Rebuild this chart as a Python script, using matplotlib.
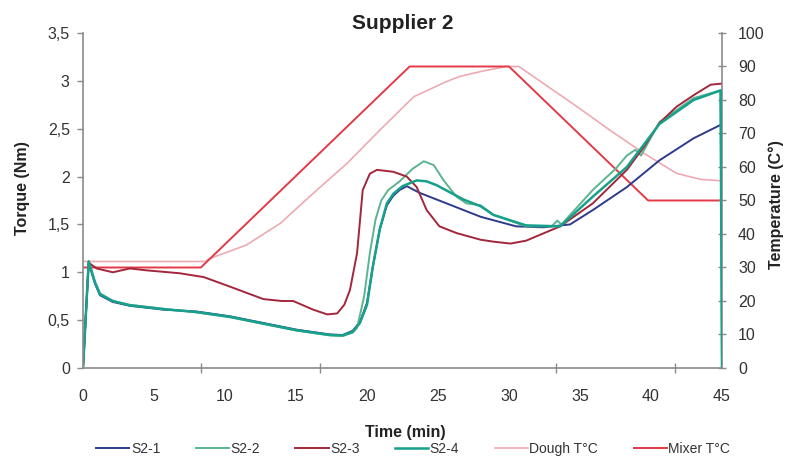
import matplotlib
matplotlib.use("Agg")
import matplotlib.pyplot as plt
from matplotlib.ticker import FixedLocator, FuncFormatter

plt.rcParams['font.family'] = ['Liberation Sans', 'DejaVu Sans']

# ---------------- data ----------------
t_s21 = [0, 0.4, 0.85, 1.2, 2.1, 3.3, 5.65, 8.0, 10.35, 12.7, 15.05, 17.4, 18.3, 19.0, 19.5,
         20.0, 20.4, 20.9, 21.4, 21.85, 22.3, 22.8, 23.7, 25.6, 28.0, 30.5, 32.4, 34.3, 35.9,
         38.3, 40.6, 43.0, 44.9]
tq_s21 = [0, 1.10, 0.88, 0.76, 0.69, 0.65, 0.61, 0.59, 0.54, 0.47, 0.40, 0.35, 0.345, 0.39, 0.48,
          0.68, 1.05, 1.45, 1.70, 1.80, 1.86, 1.90, 1.83, 1.72, 1.58, 1.48, 1.47, 1.50, 1.65,
          1.89, 2.17, 2.40, 2.54]

t_s22 = [0, 0.4, 0.85, 1.2, 2.1, 3.3, 5.65, 8.0, 10.35, 12.7, 15.05, 17.4, 18.3, 19.0, 19.3,
         19.8, 20.2, 20.6, 21.0, 21.5, 22.3, 23.2, 24.0, 24.7, 25.4, 26.3, 27.0, 28.0, 28.9,
         31.2, 33.0, 33.4, 33.7, 35.9, 37.5, 38.3, 38.9, 39.3, 40.6, 43.0, 44.9, 45.0]
tq_s22 = [0, 1.12, 0.90, 0.78, 0.70, 0.66, 0.62, 0.58, 0.53, 0.46, 0.39, 0.34, 0.335, 0.37, 0.42,
          0.75, 1.20, 1.55, 1.75, 1.86, 1.95, 2.08, 2.16, 2.12, 1.96, 1.79, 1.72, 1.70, 1.60,
          1.48, 1.48, 1.54, 1.50, 1.86, 2.08, 2.22, 2.28, 2.22, 2.57, 2.82, 2.90, 0]

t_s23 = [0, 0.4, 0.96, 2.1, 3.3, 4.5, 6.8, 8.5, 10.35, 12.7, 14.0, 14.8, 16.2, 17.2, 17.9, 18.4,
         18.8, 19.3, 19.7, 20.2, 20.7, 21.85, 22.8, 23.5, 24.2, 25.1, 26.3, 28.0, 28.9, 30.1,
         31.2, 33.6, 35.9, 38.3, 39.5, 40.6, 41.8, 43.0, 44.2, 44.9]
tq_s23 = [0, 1.10, 1.04, 1.00, 1.04, 1.02, 0.99, 0.95, 0.85, 0.72, 0.70, 0.70, 0.61, 0.56, 0.57, 0.66,
          0.815, 1.20, 1.86, 2.03, 2.07, 2.05, 2.00, 1.89, 1.65, 1.48, 1.41, 1.34, 1.32, 1.30,
          1.33, 1.48, 1.72, 2.07, 2.31, 2.56, 2.73, 2.85, 2.96, 2.97]

t_s24 = [0, 0.4, 0.85, 1.2, 2.1, 3.3, 5.65, 8.0, 10.35, 12.7, 15.05, 17.4, 18.3, 19.0, 19.5,
         20.0, 20.4, 20.9, 21.4, 21.85, 22.5, 23.5, 24.2, 24.9, 26.8, 28.0, 28.9, 31.2, 33.6,
         35.9, 38.3, 40.6, 43.0, 44.9, 45.0]
tq_s24 = [0, 1.11, 0.89, 0.77, 0.70, 0.655, 0.615, 0.585, 0.535, 0.465, 0.395, 0.345, 0.34, 0.38, 0.47,
          0.66, 1.05, 1.45, 1.72, 1.82, 1.90, 1.96, 1.95, 1.91, 1.76, 1.69, 1.60, 1.49, 1.48,
          1.79, 2.10, 2.55, 2.80, 2.90, 0]

t_dough = [0, 8.6, 8.94, 11.5, 13.9, 16.2, 18.6, 20.9, 23.3, 25.6, 26.5, 28.0, 29.8, 30.7, 32.4,
           34.8, 37.1, 39.5, 41.8, 43.5, 44.9]
temp_dough = [31.8, 31.8, 32.7, 36.7, 43.2, 52.1, 61.1, 71.0, 81.0, 85.5, 87.0, 88.5, 90.0, 90.0, 85.0,
              78.0, 71.0, 64.1, 58.1, 56.3, 55.9]

t_mixer = [0, 8.3, 23.0, 30.0, 39.8, 45.0]
temp_mixer = [30, 30, 90, 90, 50, 50]

x_ticks = [0, 5, 10, 15, 20, 25, 30, 35, 40, 45]
y_ticks = [0, 0.5, 1, 1.5, 2, 2.5, 3, 3.5]
y2_ticks = [0, 10, 20, 30, 40, 50, 60, 70, 80, 90, 100]

# ---------------- figure ----------------
fig = plt.figure(figsize=(7.87, 4.59), dpi=100)
ax = fig.add_axes([83/787, 1-368/459, (722-83)/787, (368-33)/459])
ax2 = ax.twinx()

c_s21 = '#2e3a8c'
c_s22 = '#5cb38e'
c_s23 = '#a3263a'
c_s24 = '#17a08c'
c_dough = '#eeaab2'
c_mixer = '#e23a46'

ax2.plot(t_dough, temp_dough, color=c_dough, lw=1.2, label='Dough T°C', zorder=1)
ax2.plot(t_mixer, temp_mixer, color=c_mixer, lw=1.4, label='Mixer T°C', zorder=1)

ax.set_zorder(ax2.get_zorder() + 1)
ax.patch.set_visible(False)
ax.plot(t_s21, tq_s21, color=c_s21, lw=1.4, label='S2-1')
ax.plot(t_s22, tq_s22, color=c_s22, lw=1.4, label='S2-2')
ax.plot(t_s23, tq_s23, color=c_s23, lw=1.4, label='S2-3')
ax.plot(t_s24, tq_s24, color=c_s24, lw=1.8, label='S2-4')

ax.set_xlim(0, 45)
ax.set_ylim(0, 3.5)
ax2.set_ylim(0, 100)

spine_c = '#8a8a8a'
for a in (ax, ax2):
    a.spines['top'].set_visible(False)
    for s in ('left', 'right', 'bottom'):
        a.spines[s].set_color(spine_c)
        a.spines[s].set_linewidth(1.2)
ax.spines['right'].set_visible(False)
ax2.spines['left'].set_visible(False)
ax2.spines['bottom'].set_visible(False)

fmt = FuncFormatter(lambda v, p: ('%g' % v).replace('.', ','))
ax.set_xticks(x_ticks)
ax.set_yticks(y_ticks)
ax.yaxis.set_major_formatter(fmt)
ax2.set_yticks(y2_ticks)
ax.xaxis.set_minor_locator(FixedLocator([25/3*i for i in range(1, 6)]))

tick_fs = 11.5
ax.tick_params(axis='x', which='major', length=0, pad=15, labelsize=tick_fs, labelcolor='#333333')
ax.tick_params(axis='x', which='minor', length=7, direction='inout', color=spine_c, width=1)
ax.tick_params(axis='y', which='major', length=4, direction='out', color=spine_c, width=1,
               pad=5.5, labelsize=tick_fs, labelcolor='#333333')
ax2.tick_params(axis='y', which='major', length=6, direction='inout', color=spine_c, width=1,
                pad=8.5, labelsize=tick_fs, labelcolor='#333333')

lab_kw = dict(fontsize=11.5, fontweight='bold', color='#222222')
ax.set_ylabel('Torque (Nm)', va='center', **lab_kw)
ax.yaxis.set_label_coords(-0.095, 0.537)
ax2.set_ylabel('Temperature (C°)', va='center', rotation=90, **lab_kw)
ax2.yaxis.set_label_coords(1.0845, 0.487)
ax.set_xlabel('Time (min)', **lab_kw)
ax.xaxis.set_label_coords(0.504, -0.17)

ax.set_title('Supplier 2', fontsize=15, fontweight='bold', color='#222222', pad=3)

h1, l1 = ax.get_legend_handles_labels()
h2, l2 = ax2.get_legend_handles_labels()
fig.legend(h1 + h2, l1 + l2, loc='center', bbox_to_anchor=(0.525, 0.022), ncol=6,
           frameon=False, fontsize=10, handlelength=2.4, handletextpad=0.1,
           columnspacing=2.55, labelcolor='#333333')

fig.savefig('out.png', dpi=100)
